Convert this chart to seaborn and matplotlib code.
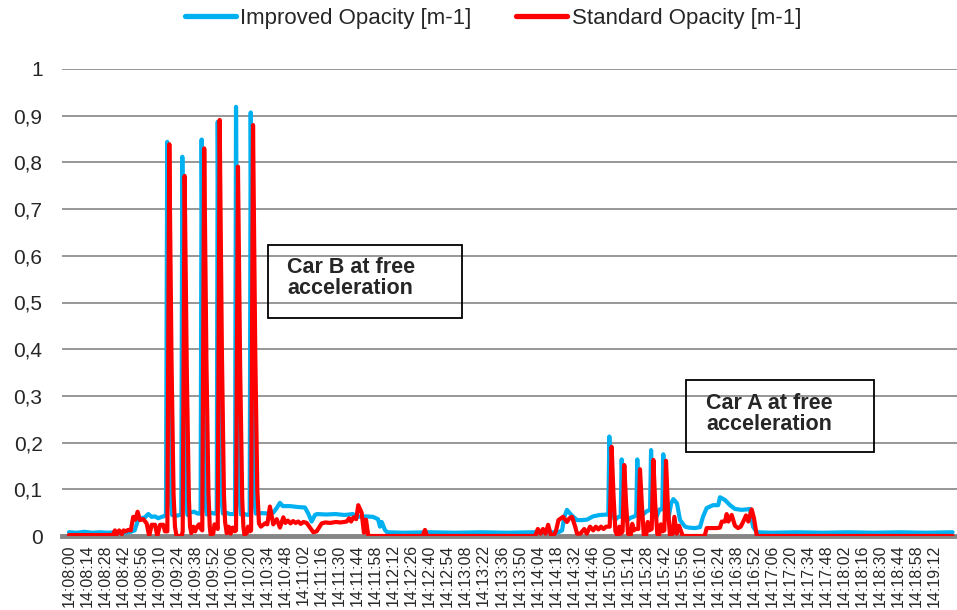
import matplotlib
matplotlib.use('Agg')
import matplotlib.pyplot as plt
import seaborn as sns
import pandas as pd
from matplotlib.patches import Rectangle

# seconds after 14:08:00 (line vertices)
improved_time = [0, 6, 12, 18, 24, 30, 36, 42, 48, 51, 53.6, 56.4, 59, 61.6, 64.2, 66.8, 69.3, 72, 74.5,
                 75.3, 76.3, 77.3, 78.8, 80, 83, 86, 87.2,
                 88, 89, 90.5, 92, 94, 97, 100, 102.2,
                 103, 104, 105.5, 107, 110, 113, 114.7,
                 115.5, 116.5, 118, 119.5, 122, 125, 128.9,
                 129.7, 130.7, 132.2, 133.5, 136, 139, 140.3,
                 141.1, 142.1, 143.6, 145, 150, 155, 158.6, 161.3, 163.8, 166, 171.6, 177.8, 183.2,
                 185.6, 188.4, 191, 192.5, 200, 206.5, 214, 220.5, 222, 230, 236, 239.9, 241.5, 242.8,
                 245.3, 247, 260, 280, 300, 320, 340, 360, 380,
                 382.8, 384.5, 386.6, 390, 394.4, 398, 402.2, 406.8, 412, 418.7,
                 419.5, 420.5, 422, 423.9, 426, 428.3,
                 429.1, 430, 431.5, 433, 436, 439, 440.4,
                 441.2, 442.2, 443.5, 446, 449, 451.1,
                 451.9, 452.9, 454, 456, 458.5, 460.6,
                 461.4, 462.4, 463.5, 465.1, 467.5, 469.2, 472, 474.4, 478.3, 481, 486, 489.9, 492.2,
                 495.1, 500, 504, 505.4, 509.3, 513.2, 517, 522, 526.4, 528.7, 531, 534,
                 545, 565, 585, 605, 625, 645, 665, 686]
improved_value = [.008, .007, .009, .007, .008, .007, .008, .007, .009, .012, .034, .038, .04, .047, .041, .042, .038, .041, .043,
                  .045, .844, .38, .09, .045, .043, .045, .046,
                  .812, .36, .08, .045, .05, .052, .048, .048,
                  .849, .38, .08, .046, .05, .048, .048,
                  .887, .40, .09, .048, .05, .047, .047,
                  .919, .42, .09, .046, .047, .045, .046,
                  .907, .40, .09, .048, .049, .048, .05, .06, .071, .064, .064, .062, .061,
                  .049, .031, .045, .047, .046, .047, .045, .047, .041, .042, .041, .036, .02, .03,
                  .013, .008, .007, .008, .007, .008, .007, .008, .008,
                  .012, .04, .056, .045, .034, .034, .035, .042, .045, .046,
                  .213, .10, .05, .034, .04, .042,
                  .164, .08, .04, .033, .039, .042, .045,
                  .164, .08, .045, .047, .054, .055,
                  .184, .09, .045, .04, .057, .057,
                  .175, .08, .045, .034, .07, .079, .07, .034, .02, .018, .017, .019, .041,
                  .06, .066, .066, .083, .077, .066, .058, .056, .057, .058, .02, .008,
                  .007, .008, .007, .008, .007, .008, .007, .008]

standard_time = [0, 34, 35.7, 37, 39, 41, 42.5, 44, 46, 48, 49.9, 51.5, 53.3, 55.1, 57.7, 60.3, 62.3, 64.2,
                 66.8, 68.6, 70.7, 73.2, 74.5, 76.4,
                 77.9, 79.6, 81.2, 82.3, 83.5, 87.5, 88.3,
                 89.8, 91.5, 93.1, 94, 95, 96.5, 98, 99.5, 101, 102.5, 103.5,
                 105, 106.7, 108.3, 109.3, 110, 112, 113, 114.5, 115.5,
                 117, 118.7, 120.3, 121.2, 122.5, 124, 125.5, 127, 128.8, 129.7,
                 131.2, 132.9, 134.5, 135.4, 136.2, 138, 139, 140.5, 141.4,
                 142.9, 144.6, 146.2, 147.5, 149, 152.2, 154, 156, 158.6, 161.3, 163.8, 166.4, 168,
                 170, 172, 174, 176, 178, 180, 182, 184.5, 187.1, 189.7, 192.3, 196.2, 199, 203, 207,
                 211, 215.6, 217.5, 219, 221, 223, 224.6, 227.2, 229, 230.6, 232.4, 274.5, 276.4, 278,
                 362, 364, 366, 368, 370, 372, 374, 376, 378, 380, 383.5, 386.6, 388.5, 390.5, 393,
                 394.4, 397, 400, 402, 404.5, 407, 409, 411, 413, 415, 417, 419.8,
                 421.3, 422.7, 424.2, 426, 427.3, 428.5, 429.8,
                 431.1, 432.5, 434, 436, 437.3, 438.5, 439.5, 442,
                 443.3, 444.7, 446.2, 448, 449.3, 450.5, 452.4,
                 453.7, 455.1, 456.7, 458, 459.5, 460.8, 462.2,
                 463.5, 465, 466.6, 468.5, 470, 471.8, 473.6, 476.5, 493.5, 495.1, 500, 503, 505.4,
                 506.8, 509.3, 510.6, 511.9, 514.5, 517, 519.4, 521.5, 523.5, 525.6, 527.4, 530,
                 531.8, 534, 686]
standard_value = [.002, .002, .012, .003, .012, .004, .012, .01, .013, .012, .041, .035, .052, .034, .036, .027, 0, .024,
                  .024, 0, .024, .024, .01, .01,
                  .839, .38, .09, .02, 0, 0, .01,
                  .771, .35, .08, .02, .006, .02, .01, .02, .025, .015, .012,
                  .83, .38, .09, .02, .003, .005, .025, .02, .015,
                  .891, .40, .09, .03, .006, .02, .005, .018, .01, .012,
                  .791, .36, .08, .02, .003, .006, .02, .01, .012,
                  .88, .40, .10, .027, .02, .027, .025, .063, .025, .036, .018, .04, .028,
                  .033, .027, .032, .028, .031, .026, .03, .028, .018, .008, .01, .027, .029, .028, .03,
                  .029, .031, .038, .031, .04, .036, .066, .05, .007, .035, 0, 0, .013, 0,
                  0, .015, .005, .015, .005, .024, .003, 0, .01, .034, .041, .03, .038, .041, .02,
                  .005, .005, .015, .005, .02, .012, .02, .014, .02, .015, .02, .02,
                  .191, .09, .01, 0, .02, .005, .01,
                  .152, .07, .005, 0, .026, .012, .015, .015,
                  .143, .07, .003, 0, .03, .012, .015,
                  .163, .07, .005, 0, .025, .01, .012,
                  .161, .06, 0, .005, .041, .005, .022, 0, 0, .017, .017, .017, .018,
                  .031, .031, .047, .031, .045, .022, .017, .02, .031, .044, .031, .057,
                  .038, 0, 0]

series_names = ['Improved Opacity [m-1]', 'Standard Opacity [m-1]']
tick_labels = ['14:08:00', '14:08:14', '14:08:28', '14:08:42', '14:08:56', '14:09:10', '14:09:24',
               '14:09:38', '14:09:52', '14:10:06', '14:10:20', '14:10:34', '14:10:48', '14:11:02',
               '14:11:16', '14:11:30', '14:11:44', '14:11:58', '14:12:12', '14:12:26', '14:12:40',
               '14:12:54', '14:13:08', '14:13:22', '14:13:36', '14:13:50', '14:14:04', '14:14:18',
               '14:14:32', '14:14:46', '14:15:00', '14:15:14', '14:15:28', '14:15:42', '14:15:56',
               '14:16:10', '14:16:24', '14:16:38', '14:16:52', '14:17:06', '14:17:20', '14:17:34',
               '14:17:48', '14:18:02', '14:18:16', '14:18:30', '14:18:44', '14:18:58', '14:19:12']
tick_seconds = [14 * i for i in range(len(tick_labels))]
y_labels = ['0', '0,1', '0,2', '0,3', '0,4', '0,5', '0,6', '0,7', '0,8', '0,9', '1']

df = pd.concat([
    pd.DataFrame({'t': improved_time, 'v': improved_value, 'series': series_names[0]}),
    pd.DataFrame({'t': standard_time, 'v': standard_value, 'series': series_names[1]}),
])

sns.set_style('white')
plt.rcParams['font.family'] = ['Liberation Sans', 'DejaVu Sans']

fig = plt.figure(figsize=(9.57, 6.10), dpi=100)
ax = fig.add_axes([62/957, 74/610, 895/957, 467/610])

sns.lineplot(data=df, x='t', y='v', hue='series', palette=['#00b0f0', '#ff0000'],
             estimator=None, sort=False, linewidth=3.0, ax=ax, zorder=3)

ax.set_xlim(-5.4, 689.4)
ax.set_ylim(0, 1)
ax.set_yticks([i / 10 for i in range(11)])
ax.set_yticklabels(y_labels, fontsize=15)
ax.set_xticks(tick_seconds)
ax.set_xticklabels(tick_labels, rotation=90, fontsize=11.5)
ax.tick_params(axis='x', length=0, pad=6)
ax.tick_params(axis='y', length=0, pad=14)
ax.yaxis.grid(True, color='#8f8f8f', linewidth=1.3)
ax.xaxis.grid(False)
for s in ['left', 'top', 'right']:
    ax.spines[s].set_visible(False)
ax.spines['bottom'].set_color('#868686')
ax.spines['bottom'].set_linewidth(3.5)
ax.set_xlabel('')
ax.set_ylabel('')

handles, labels = ax.get_legend_handles_labels()
leg = ax.legend(handles, labels, loc='center', bbox_to_anchor=(0.515, 0.970),
                bbox_transform=fig.transFigure, ncol=2, frameon=False, fontsize=16,
                handlelength=2.3, handletextpad=0.2, columnspacing=2.0)
for line in leg.get_lines():
    line.set_linewidth(3.8)

# annotation boxes
ax.add_patch(Rectangle((154.5, 0.467), 150.6, 0.156, fill=False, edgecolor='black', lw=1.3, zorder=4))
ax.text(169.3, 0.597, 'Car B at free\nacceleration', fontsize=15.5, fontweight='bold',
        va='top', ha='left', linespacing=1.0, zorder=5)
ax.add_patch(Rectangle((479, 0.180), 146, 0.154, fill=False, edgecolor='black', lw=1.3, zorder=4))
ax.text(494.6, 0.307, 'Car A at free\nacceleration', fontsize=15.5, fontweight='bold',
        va='top', ha='left', linespacing=1.0, zorder=5)

plt.savefig('out.png', dpi=100)
